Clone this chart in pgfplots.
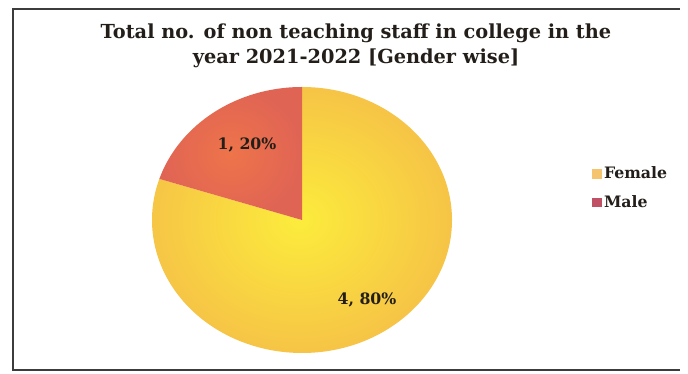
\documentclass[border=0pt]{standalone}
\usepackage{fontspec}
\setmainfont{DejaVu Serif}
\usepackage{pgfplots}
\usepackage{pgfplotstable}
\pgfplotsset{compat=1.18}
\definecolor{femin}{RGB}{252,236,60}
\definecolor{femout}{RGB}{246,196,70}
\definecolor{malin}{RGB}{238,116,74}
\definecolor{malout}{RGB}{224,100,84}
\definecolor{legF}{RGB}{245,196,110}
\definecolor{legM}{RGB}{192,80,100}
\definecolor{frame}{RGB}{60,60,60}
\definecolor{txt}{RGB}{35,30,25}
\pgfplotstableread{
gender value
Female 4
Male 1
}\piedata
\pgfplotstablegetelem{0}{value}\of\piedata \let\vF\pgfplotsretval
\pgfplotstablegetelem{1}{value}\of\piedata \let\vM\pgfplotsretval
\pgfmathsetmacro{\tot}{\vF+\vM}
\pgfmathsetmacro{\aF}{90-360*\vF/\tot}
\pgfmathsetmacro{\aM}{\aF-360*\vM/\tot}
\pgfmathtruncatemacro{\pF}{round(100*\vF/\tot)}
\pgfmathtruncatemacro{\pM}{round(100*\vM/\tot)}
\begin{document}
\begin{tikzpicture}
\begin{axis}[
  width=516pt, height=280.5pt, scale only axis,
  xmin=0, xmax=688, ymin=0, ymax=374,
  hide axis, clip=false,
  legend style={at={(axis cs:592,186)}, anchor=west, draw=none, fill=none,
    font=\bfseries\fontsize{11.8}{13}\selectfont, text=txt,
    row sep=7pt, inner sep=0pt},
  legend cell align=left,
  legend image code/.code={\fill[#1] (0pt,-3.2pt) rectangle (6.4pt,3.2pt);},
]
% canvas
\path (axis cs:0,0) rectangle (axis cs:688,374);
% frame
\draw[frame, line width=2pt] (axis cs:680,365) -- (axis cs:13,365) -- (axis cs:13,4) -- (axis cs:680,4);
% title
\node[font=\bfseries\fontsize{14.5}{18.75}\selectfont, text=txt, align=center]
  at (axis cs:356,328.5) {Total no. of non teaching staff in college in the\\year 2021-2022 [Gender wise]};
% pie slices
\shade[inner color=femin, outer color=femout]
  (axis cs:302,154) -- +(90:112.5pt and 99.75pt)
  arc[start angle=90, end angle=\aF, x radius=112.5pt, y radius=99.75pt] -- cycle;
\shade[inner color=malin, outer color=malout]
  (axis cs:302,154) -- +(\aF:112.5pt and 99.75pt)
  arc[start angle=\aF, end angle=\aM, x radius=112.5pt, y radius=99.75pt] -- cycle;
% data labels
\node[font=\bfseries\fontsize{11.8}{13}\selectfont, text=txt] at (axis cs:367,74) {\vF, \pF\%};
\node[font=\bfseries\fontsize{11.8}{13}\selectfont, text=txt] at (axis cs:247,229) {\vM, \pM\%};
% legend
\addlegendimage{legF}
\addlegendentry{Female}
\addlegendimage{legM}
\addlegendentry{Male}
\end{axis}
\end{tikzpicture}
\end{document}
